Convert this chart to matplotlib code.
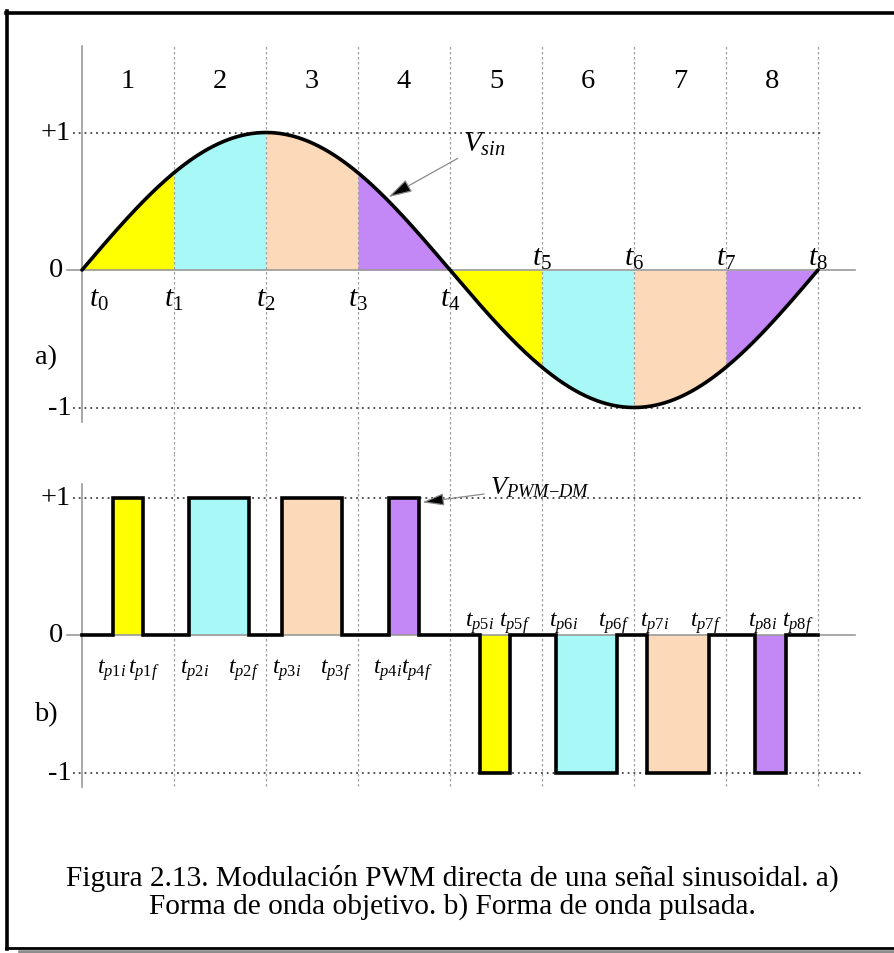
import matplotlib
matplotlib.use("Agg")
import matplotlib.pyplot as plt
import numpy as np
from matplotlib.lines import Line2D

plt.rcParams['font.family'] = ['Liberation Serif', 'DejaVu Serif']
plt.rcParams['mathtext.fontset'] = 'custom'
plt.rcParams['mathtext.it'] = 'Liberation Serif:italic'
plt.rcParams['mathtext.rm'] = 'Liberation Serif'

# ---- data ----
interval_labels = ['1', '2', '3', '4', '5', '6', '7', '8']
t_marks = [0, 1, 2, 3, 4, 5, 6, 7, 8]
t_labels = [r'$t_{%d}$' % i for i in range(9)]
sin_amplitude = 1.0
sin_period = 8.0
seg_colors = ['#ffff00', '#a9f8f8', '#fcdab9', '#c487f6',
              '#ffff00', '#a9f8f8', '#fcdab9', '#c487f6']

pulse_start = [0.34, 1.16, 2.17, 3.34, 4.33, 5.15, 6.14, 7.32]
pulse_end = [0.66, 1.82, 2.83, 3.66, 4.65, 5.82, 6.82, 7.65]
pulse_level = [1, 1, 1, 1, -1, -1, -1, -1]

caption = ["Figura 2.13. Modulación PWM directa de una señal sinusoidal. a)",
           "Forma de onda objetivo. b) Forma de onda pulsada."]

# ---- layout (pixels) ----
W, H = 895, 954
X0, PX = 82, 92.0      # t=0 position and pixels per interval
PY = 137.5             # pixels per unit of amplitude
FS = 20.5
# nudges (px) of the pulse edge labels relative to the edges
i_nudge = [-2, 6, 5, -2, -1, 8, 8, 7]
f_nudge = [1, -6, -7, -2, 5, -4, -4, 12]

fig = plt.figure(figsize=(W / 100, H / 100), dpi=100)


def make_axes(top_px, bottom_px, zero_px):
    ax = fig.add_axes([0, 1 - bottom_px / H, 1, (bottom_px - top_px) / H])
    ax.set_xlim(-X0 / PX, (W - X0) / PX)
    ax.set_ylim(-(bottom_px - zero_px) / PY, (zero_px - top_px) / PY)
    ax.axis('off')
    return ax


ax1 = make_axes(20, 455, 271)
ax2 = make_axes(455, 830, 636)

grid_kw = dict(color='#a0a0a0', lw=0.9, linestyle=(0, (2, 2)))
dot_kw = dict(color='#444444', lw=1.3, linestyle=(0, (1, 2.2)))
axis_kw = dict(color='#9a9a9a', lw=1.2)

# ---------- a) sine ----------
ax1.vlines(t_marks[1:], ax1.get_ylim()[0], 1.63, **grid_kw)
ax1.plot([0, 0], [1.63, -1.105], **axis_kw)
ax1.plot([-0.16, 8.4], [0, 0], **axis_kw)
ax1.plot([-0.1, 8.05], [1, 1], **dot_kw)
ax1.plot([-0.1, 8.49], [-1, -1], **dot_kw)

t = np.linspace(0, t_marks[-1], 801)
v = sin_amplitude * np.sin(2 * np.pi * t / sin_period)
for k in range(8):
    m = (t >= t_marks[k]) & (t <= t_marks[k + 1])
    ax1.fill_between(t[m], 0, v[m], color=seg_colors[k], lw=0)
ax1.plot(t, v, color='black', lw=2.6, solid_capstyle='round')

for k, lab in enumerate(interval_labels):
    ax1.text(k + 0.5, 1.375, lab, ha='center', va='center', fontsize=FS)

for k, lab in enumerate(t_labels):
    if k <= 4:
        x = 0.18 if k == 0 else t_marks[k]
        ax1.text(x, -0.21, lab, ha='center', va='center', fontsize=21.5)
    else:
        ax1.text(t_marks[k], 0.09, lab, ha='center', va='center', fontsize=21.5)

ax1.text(-0.12, 1, '+1', ha='right', va='center', fontsize=FS)
ax1.text(-0.2, 0, '0', ha='right', va='center', fontsize=FS)
ax1.text(-0.11, -1, '-1', ha='right', va='center', fontsize=FS)
ax1.text(-0.39, -0.633, 'a)', ha='center', va='center', fontsize=FS)

ax1.annotate(r'$V_{sin}$', xy=(3.33, 0.53), xytext=(4.14, 0.92),
             fontsize=21, ha='left', va='center',
             arrowprops=dict(arrowstyle='-|>,head_length=0.7,head_width=0.2',
                             ec='#8a8a8a', fc='black', lw=0.9,
                             shrinkA=2, shrinkB=0))

# ---------- b) pulses ----------
ax2.vlines(t_marks[1:], -1.10, ax2.get_ylim()[1], **grid_kw)
ax2.plot([0, 0], [1.10, -1.105], **axis_kw)
ax2.plot([-0.16, 8.4], [0, 0], **axis_kw)
ax2.plot([-0.1, 8.49], [1, 1], **dot_kw)
ax2.plot([-0.1, 8.49], [-1, -1], **dot_kw)

starts = np.array(pulse_start)
ends = np.array(pulse_end)
ax2.bar(starts, pulse_level, width=ends - starts, align='edge',
        color=seg_colors, lw=0)

wx, wy = [0], [0]
for s, e, lv in zip(pulse_start, pulse_end, pulse_level):
    wx += [s, s, e, e]
    wy += [0, lv, lv, 0]
wx.append(t_marks[-1])
wy.append(0)
ax2.plot(wx, wy, color='black', lw=2.6, solid_joinstyle='miter')

for k in range(8):
    n = k + 1
    y = -0.25 if pulse_level[k] > 0 else 0.095
    ax2.text(pulse_start[k] + i_nudge[k] / PX, y, r'$t_{p%di}$' % n,
             ha='center', va='center', fontsize=17)
    ax2.text(pulse_end[k] + f_nudge[k] / PX, y, r'$t_{p%df}$' % n,
             ha='center', va='center', fontsize=17)

ax2.text(-0.12, 1, '+1', ha='right', va='center', fontsize=FS)
ax2.text(-0.2, 0, '0', ha='right', va='center', fontsize=FS)
ax2.text(-0.11, -1, '-1', ha='right', va='center', fontsize=FS)
ax2.text(-0.39, -0.575, 'b)', ha='center', va='center', fontsize=FS)

ax2.annotate(r'$V_{PWM{-}DM}$', xy=(3.70, 0.965), xytext=(4.43, 1.08),
             fontsize=19, ha='left', va='center',
             arrowprops=dict(arrowstyle='-|>,head_length=0.7,head_width=0.2',
                             ec='#8a8a8a', fc='black', lw=0.9,
                             shrinkA=2, shrinkB=0))

# ---------- caption and frame ----------
fig.text(452 / W, 1 - 878 / H, caption[0], ha='center', va='center', fontsize=21.2)
fig.text(452 / W, 1 - 907 / H, caption[1], ha='center', va='center', fontsize=21.2)

fig.add_artist(Line2D([6 / W, 1], [1 - 13.5 / H] * 2, color='black', lw=2.6))
fig.add_artist(Line2D([7.5 / W] * 2, [1 - 12 / H, 1 - 950 / H], color='black', lw=2.6))
fig.add_artist(Line2D([6 / W, 1], [1 - 949 / H] * 2, color='black', lw=2.0))
fig.add_artist(Line2D([20 / W, 1], [1 - 952.5 / H] * 2, color='#8c8c8c', lw=2.6))

fig.savefig('out.png', dpi=100, facecolor='white')
